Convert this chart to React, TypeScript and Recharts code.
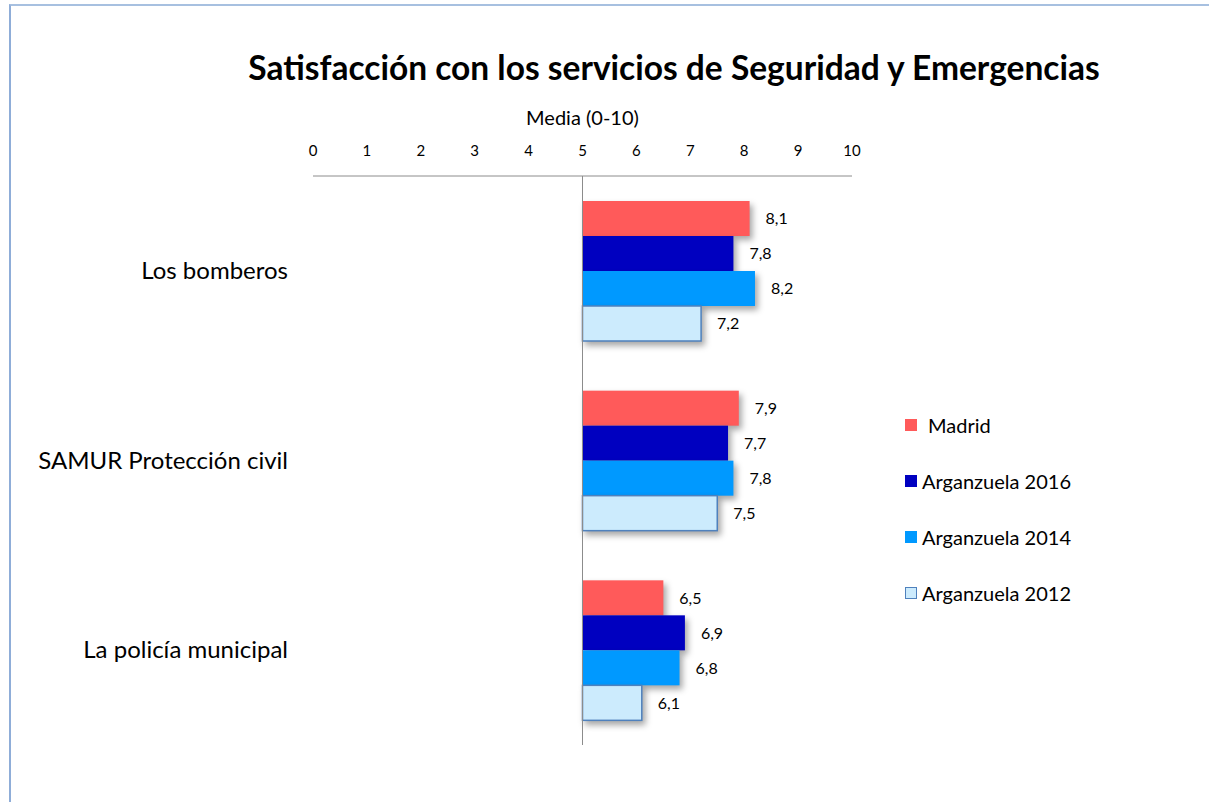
import React from 'react';
import { BarChart, Bar, XAxis, YAxis, ReferenceLine, LabelList, Label } from 'recharts';

const categories = ['Los bomberos', 'SAMUR Protección civil', 'La policía municipal'];
const seriesNames = ['Madrid', 'Arganzuela 2016', 'Arganzuela 2014', 'Arganzuela 2012'];
const madrid = [8.1, 7.9, 6.5];
const arganzuela2016 = [7.8, 7.7, 6.9];
const arganzuela2014 = [8.2, 7.8, 6.8];
const arganzuela2012 = [7.2, 7.5, 6.1];
const xTicks = [0, 1, 2, 3, 4, 5, 6, 7, 8, 9, 10];
const baseline = 5;

const seriesFills = ['#FF5A5A', '#0000C0', '#0099FF', '#CCEBFD'];
const seriesStrokes = ['none', 'none', 'none', '#4F81BD'];

const seriesValues = [madrid, arganzuela2016, arganzuela2014, arganzuela2012];

const data = categories.map((name, i) => {
  const row: any = { name };
  seriesValues.forEach((vals, s) => {
    row['r' + s] = [baseline, vals[i]];
    row['v' + s] = vals[i];
  });
  return row;
});

const FONT = 'Lato, Carlito, "Open Sans", sans-serif';

const ShadowRect = (props: any) => {
  const { x, y, width, height, fill, stroke, strokeWidth } = props;
  return (
    <rect
      x={x}
      y={y}
      width={width}
      height={height}
      fill={fill}
      stroke={stroke}
      strokeWidth={strokeWidth}
      style={{ filter: 'drop-shadow(3px 4px 3px rgba(0,0,0,0.35))' }}
    />
  );
};

const XTick = (p: any) => (
  <text x={p.x} y={p.y - 20} textAnchor="middle" fontSize={15} fontFamily={FONT} fill="#000">
    {p.payload.value}
  </text>
);

const YTick = (p: any) => (
  <text x={p.x - 25} y={p.y + 8} textAnchor="end" fontSize={24} fontFamily={FONT} fill="#000">
    {p.payload.value}
  </text>
);

const fmt = (v: any) => Number(v).toFixed(1).replace('.', ',');

export default function App() {
  return (
    <div style={{ position: 'absolute', left: 0, top: 0, width: 1209, height: 802, overflow: 'hidden', background: '#fff' }}>
      <div
        style={{
          position: 'absolute',
          left: 9,
          top: 4,
          width: 1200,
          height: 798,
          borderTop: '2px solid #A7C0E0',
          borderLeft: '2px solid #8FADD8',
          boxSizing: 'border-box',
        }}
      />
      <div
        style={{
          position: 'absolute',
          left: 174,
          top: 47,
          width: 1000,
          textAlign: 'center',
          fontFamily: FONT,
          fontWeight: 700,
          fontSize: 33.5,
          color: '#000',
          lineHeight: '40px',
        }}
      >
        Satisfacción con los servicios de Seguridad y Emergencias
      </div>
      <div style={{ position: 'absolute', left: 0, top: 0 }}>
        <BarChart
          width={1209}
          height={802}
          layout="vertical"
          data={data}
          margin={{ top: 175, left: 312, right: 357, bottom: 57 }}
          barGap={0}
          barSize={35}
        >
          <XAxis
            type="number"
            orientation="top"
            domain={[0, 10]}
            ticks={xTicks}
            interval={0}
            height={1}
            tickSize={0}
            tickMargin={0}
            tickLine={false}
            axisLine={{ stroke: '#8C8C8C', strokeWidth: 1 }}
            tick={<XTick />}
          >
            <Label value="Media (0-10)" position="top" offset={50} fontSize={20} fontFamily={FONT} fill="#000" />
          </XAxis>
          <YAxis
            type="category"
            dataKey="name"
            width={1}
            tickSize={0}
            tickMargin={0}
            axisLine={false}
            tickLine={false}
            tick={<YTick />}
            interval={0}
          />
          <ReferenceLine x={baseline} stroke="#8C8C8C" strokeWidth={1} />
          {seriesNames.map((n, s) => (
            <Bar
              key={n}
              dataKey={'r' + s}
              name={n}
              fill={seriesFills[s]}
              stroke={seriesStrokes[s]}
              strokeWidth={s === 3 ? 1.5 : 0}
              isAnimationActive={false}
              shape={<ShadowRect />}
            >
              <LabelList
                dataKey={'v' + s}
                position="right"
                offset={16}
                formatter={fmt}
                fontSize={16}
                fontFamily={FONT}
                fill="#000"
              />
            </Bar>
          ))}
        </BarChart>
      </div>
      <div style={{ position: 'absolute', left: 905, top: 411, fontFamily: FONT, fontSize: 20, color: '#000' }}>
        {seriesNames.map((n, s) => (
          <div key={n} style={{ display: 'flex', alignItems: 'center', height: 28, marginBottom: 28 }}>
            <span
              style={{
                display: 'inline-block',
                width: 12,
                height: 12,
                boxSizing: 'border-box',
                background: seriesFills[s],
                border: s === 3 ? '1.5px solid #4F81BD' : 'none',
                marginRight: s === 0 ? 11 : 5,
              }}
            />
            <span>{n}</span>
          </div>
        ))}
      </div>
    </div>
  );
}
